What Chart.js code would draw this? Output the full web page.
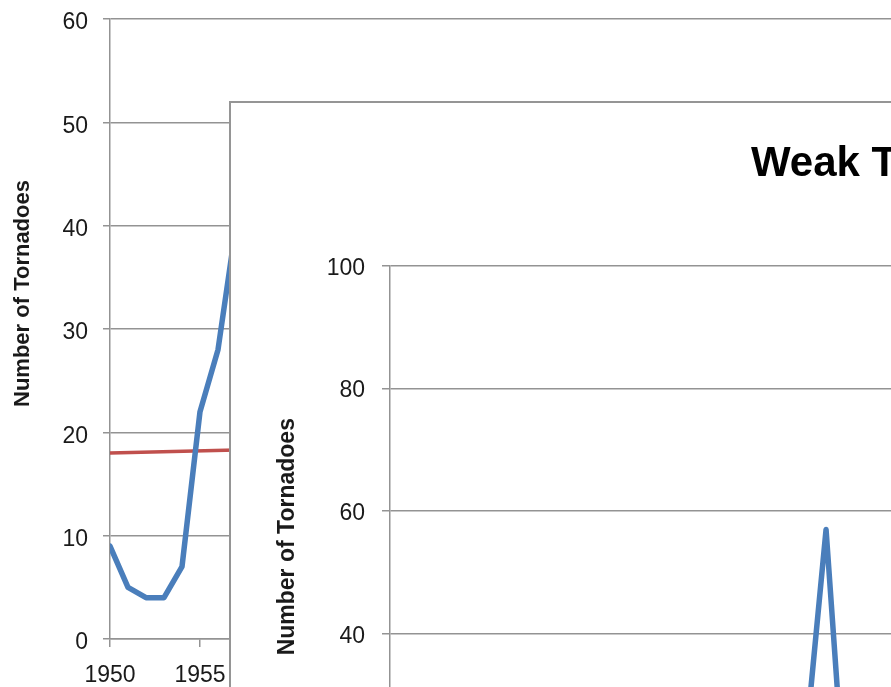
<!DOCTYPE html>
<html>
<head>
<meta charset="utf-8">
<script src="https://cdn.jsdelivr.net/npm/chart.js@4.4.1/dist/chart.umd.min.js"></script>
<style>
  html, body { margin: 0; padding: 0; background: #fff; overflow: hidden; width: 891px; height: 687px; }
  #back { position: absolute; left: 0; top: 0; }
  #panel { position: absolute; left: 229px; top: 101px; width: 1500px; height: 900px; background: #fff;
           border-top: 2px solid #959595; border-left: 2px solid #959595; }
  #front { position: absolute; left: 0; top: 0; }
</style>
</head>
<body>
<canvas id="back" width="1230" height="687"></canvas>
<div id="panel"><canvas id="front" width="1378" height="826"></canvas></div>
<script>
// Yearly tornado counts behind, with their linear trend
const backYears = [1950, 1951, 1952, 1953, 1954, 1955, 1956, 1957];
const backCounts = [9, 5, 4, 4, 7, 22, 28, 40];
const trendYears = [1950, 1957];
const trendCounts = [18.0, 18.3];
const backYRange = [0, 60];
const backYStep = 10;
const backXRange = [1950, 2010];

// Weak tornadoes chart in front
const frontTitle = 'Weak Tornadoes';
const frontYears = [1973, 1974, 1975];
const frontCounts = [26, 57, 15];
const frontYRange = [0, 100];
const frontYStep = 20;
const frontXRange = [1950, 2015];
const xStep = 5;

const axisCaption = 'Number of Tornadoes';

const FAMILY = "'Liberation Sans', Arial, sans-serif";
const GRID = '#939393';
const TEXT = '#1a1a1a';
const BLUE = '#4a7ebb';
const RED = '#c0504d';

const points = (xs, ys) => xs.map((x, i) => ({ x: x, y: ys[i] }));

// Rotated caption beside the value axis
const sideCaption = {
  id: 'sideCaption',
  afterDraw(chart, args, opts) {
    const { ctx, chartArea: a } = chart;
    ctx.save();
    ctx.translate(a.left + opts.dx, (a.top + a.bottom) / 2 + opts.dy);
    ctx.rotate(-Math.PI / 2);
    ctx.font = opts.font;
    ctx.fillStyle = TEXT;
    ctx.textAlign = 'center';
    ctx.textBaseline = 'middle';
    ctx.fillText(opts.text, 0, 0);
    ctx.restore();
  }
};

// Fixed-size axes: no extra room reserved for overhanging labels
const fixWidth = w => s => { s.width = w; s.paddingTop = 0; s.paddingBottom = 0; };
const fixHeight = h => s => { s.height = h; s.paddingLeft = 0; s.paddingRight = 0; };

const lineStyle = {
  pointRadius: 0, tension: 0, fill: false,
  borderJoinStyle: 'round', borderCapStyle: 'round'
};

new Chart(document.getElementById('back'), {
  type: 'line',
  data: {
    datasets: [
      Object.assign({ data: points(backYears, backCounts), borderColor: BLUE, borderWidth: 5.5 }, lineStyle),
      Object.assign({ data: points(trendYears, trendCounts), borderColor: RED, borderWidth: 3.5 }, lineStyle)
    ]
  },
  options: {
    responsive: false, animation: false, events: [],
    layout: { autoPadding: false, padding: { top: 19, right: 40, left: 0, bottom: 0 } },
    plugins: {
      legend: { display: false }, tooltip: { enabled: false },
      sideCaption: { text: axisCaption, font: 'bold 22px ' + FAMILY, dx: -87, dy: -35.5 }
    },
    scales: {
      x: {
        type: 'linear', min: backXRange[0], max: backXRange[1],
        afterFit: fixHeight(48),
        grid: { drawOnChartArea: false, tickLength: 8, color: GRID, lineWidth: 1.5 },
        border: { color: GRID, width: 1.5 },
        ticks: { stepSize: xStep, padding: 15, maxRotation: 0, autoSkip: false, color: TEXT,
                 font: { family: FAMILY, size: 23 }, callback: v => String(v) }
      },
      y: {
        min: backYRange[0], max: backYRange[1],
        afterFit: fixWidth(110),
        grid: { tickLength: 7, color: GRID, lineWidth: 1.5 },
        border: { color: GRID, width: 1.5 },
        ticks: { stepSize: backYStep, padding: 15, labelOffset: 4, color: TEXT,
                 font: { family: FAMILY, size: 23 } }
      }
    }
  },
  plugins: [sideCaption]
});

new Chart(document.getElementById('front'), {
  type: 'line',
  data: {
    datasets: [
      Object.assign({ data: points(frontYears, frontCounts), borderColor: BLUE, borderWidth: 5.5 }, lineStyle)
    ]
  },
  options: {
    responsive: false, animation: false, events: [],
    layout: { autoPadding: false, padding: { top: 0, right: 38, left: 32, bottom: 0 } },
    plugins: {
      legend: { display: false }, tooltip: { enabled: false },
      title: { display: true, text: frontTitle, color: '#000',
               font: { family: FAMILY, size: 42, weight: 'bold' },
               padding: { top: 36, bottom: 76.6 } },
      sideCaption: { text: axisCaption, font: 'bold 23px ' + FAMILY, dx: -102.2, dy: -35.8 }
    },
    scales: {
      x: {
        type: 'linear', min: frontXRange[0], max: frontXRange[1],
        afterFit: fixHeight(50),
        grid: { drawOnChartArea: false, tickLength: 8, color: GRID, lineWidth: 1.5 },
        border: { color: GRID, width: 1.5 },
        ticks: { stepSize: xStep, padding: 15, maxRotation: 0, autoSkip: false, color: TEXT,
                 font: { family: FAMILY, size: 23 }, callback: v => String(v) }
      },
      y: {
        min: frontYRange[0], max: frontYRange[1],
        afterFit: fixWidth(127),
        grid: { tickLength: 8, color: GRID, lineWidth: 1.5 },
        border: { color: GRID, width: 1.5 },
        ticks: { stepSize: frontYStep, padding: 17, labelOffset: 2.5, color: TEXT,
                 font: { family: FAMILY, size: 23 } }
      }
    }
  },
  plugins: [sideCaption]
});
</script>
</body>
</html>
